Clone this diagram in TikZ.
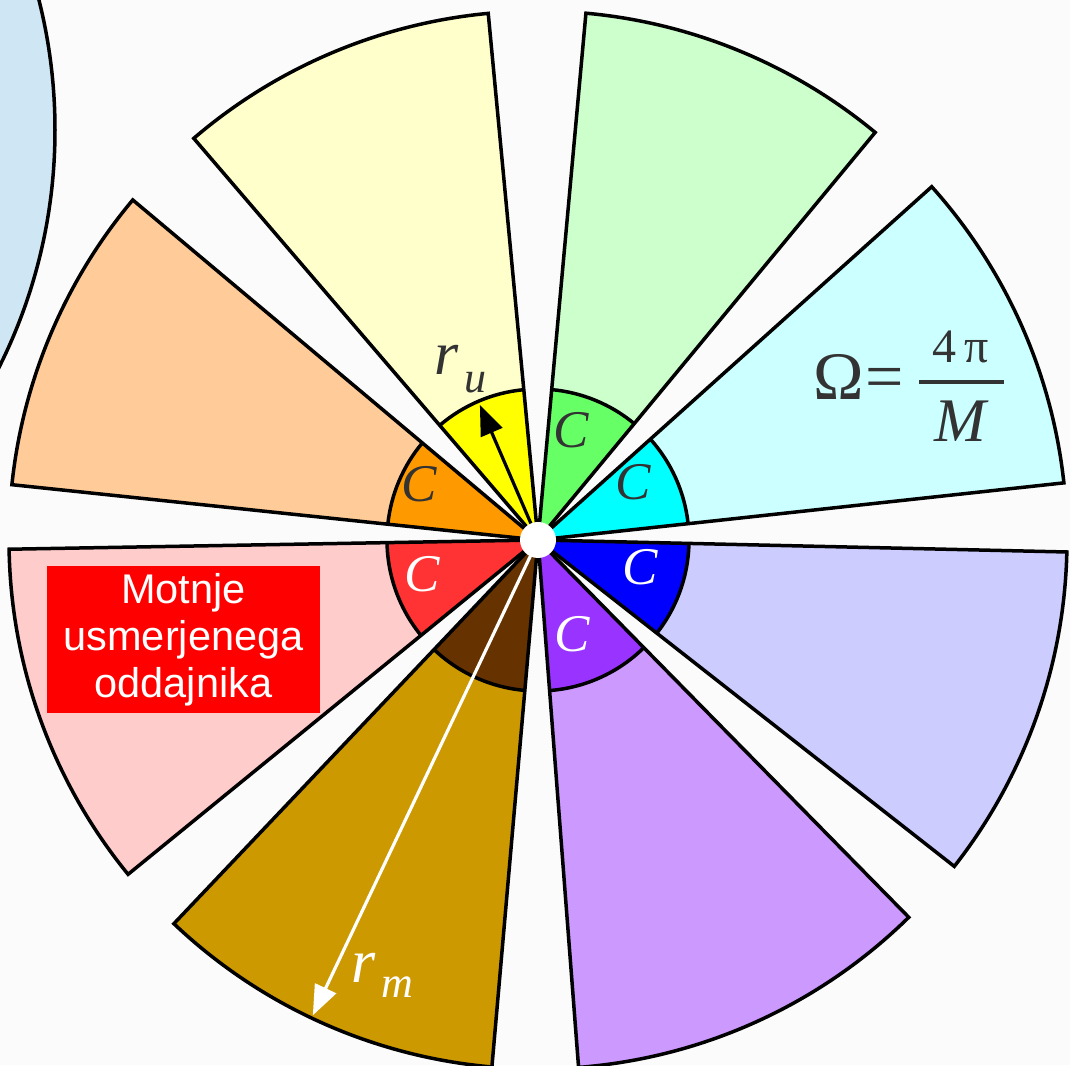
\documentclass[tikz,border=0pt]{standalone}
\usepackage{fontspec}
\setmainfont{Liberation Serif}
\newfontfamily\boxsans{Liberation Sans}
\usetikzlibrary{arrows.meta,calc}
\definecolor{bg}{HTML}{FBFBFB}
\definecolor{txt}{HTML}{333333}
\definecolor{cellblue}{HTML}{CFE6F4}
\definecolor{yelO}{HTML}{FFFFCC}\definecolor{yelI}{HTML}{FFFF00}
\definecolor{grnO}{HTML}{CCFFCC}\definecolor{grnI}{HTML}{66FF66}
\definecolor{cynO}{HTML}{CCFFFF}\definecolor{cynI}{HTML}{00FFFF}
\definecolor{lavO}{HTML}{CCCCFF}\definecolor{lavI}{HTML}{0000FF}
\definecolor{purO}{HTML}{CC99FF}\definecolor{purI}{HTML}{9933FF}
\definecolor{gldO}{HTML}{CC9900}\definecolor{gldI}{HTML}{663300}
\definecolor{pnkO}{HTML}{FFCCCC}\definecolor{pnkI}{HTML}{FF3333}
\definecolor{orgO}{HTML}{FFCC99}\definecolor{orgI}{HTML}{FF9900}
\begin{document}
\begin{tikzpicture}[x=1pt,y=1pt,
  outline/.style={draw=black,line width=3.5pt,line join=miter},
  clabel/.style={font=\fontsize{53}{53}\selectfont\itshape, inner sep=0pt, anchor=base},
  mathtext/.style={text=txt, inner sep=0pt},
  arrowline/.style={line width=3.2pt,-{Triangle[length=30pt,width=23pt]}}]
\useasboundingbox (0,0) rectangle (1070,1065);
\fill[bg] (0,0) rectangle (1070,1065);
\begin{scope}
\clip (0,0) rectangle (1070,1065);
% neighbouring cell
\fill[cellblue] (-475,935) circle[radius=530];
\draw[outline] (-475,935) circle[radius=530];
\coordinate (O) at (538,525);
% sectors
\foreach \a/\b/\co/\ci in {95.4/130.6/yelO/yelI, 50.4/84.8/grnO/grnI, 6.2/41.9/cynO/cynI,
   -38.1/-1.3/lavO/lavI, -85.6/-45.5/purO/purI, -133.5/-95/gldO/gldI,
   181/219.2/pnkO/pnkI, 140/174/orgO/orgI}{
  \fill[\co] (O) -- ($(O)+(\a:529)$) arc[start angle=\a, end angle=\b, radius=529] -- cycle;
  \fill[\ci] (O) -- ($(O)+(\a:151)$) arc[start angle=\a, end angle=\b, radius=151] -- cycle;
  \draw[outline] ($(O)+(\a:151)$) arc[start angle=\a, end angle=\b, radius=151];
  \draw[outline] (O) -- ($(O)+(\a:529)$) arc[start angle=\a, end angle=\b, radius=529] -- cycle;
}
% C labels
\node[clabel, text=txt] (cg) at (571,617) {C};
\node[clabel, text=txt] (cc) at (633,565) {C};
\node[clabel, text=txt] (co) at (419,563) {C};
\node[clabel, text=white] (cr) at (422,473) {C};
\node[clabel, text=white] (cb) at (640,480) {C};
\node[clabel, text=white] (cp) at (572,413) {C};
% radius arrows
\coordinate (tipu) at ($(O)+(113.3:147)$);
\coordinate (tipm) at ($(O)+(244.65:526)$);
\draw[arrowline, draw=black, fill=black] (O) -- (tipu);
\draw[arrowline, draw=white, fill=white] (O) -- (tipm);
\node[mathtext, anchor=base west, font=\fontsize{62}{62}\selectfont] (ru) at (434,690)
  {\textit{r}\kern6pt\raisebox{-18pt}{\fontsize{44}{44}\selectfont\textit{u}}};
\node[inner sep=0pt, text=white, anchor=base west, font=\fontsize{62}{62}\selectfont] (rm) at (351,83)
  {\textit{r}\kern6pt\raisebox{-15pt}{\fontsize{44}{44}\selectfont\textit{m}}};
% centre
\fill[white] (O) circle[radius=18];
% formula
\node[mathtext, anchor=base west, font=\fontsize{68}{68}\selectfont] (omeq) at (813,665) {Ω\kern2pt=};
\node[mathtext, anchor=base, font=\fontsize{48}{48}\selectfont] (num) at (961,702) {4\kern8pt π};
\node[mathtext, anchor=base, font=\fontsize{62}{62}\selectfont\itshape] (den) at (960,623) {M};
\fill[txt] (919,681) rectangle (1004,685);
% label box
\node[fill=red, text=white, minimum width=273pt, minimum height=147pt, inner sep=0pt,
  align=center, font=\boxsans\fontsize{41.5}{47}\selectfont] (box) at (183.5,425.5)
  {Motnje\\usmerjenega\\oddajnika};
\end{scope}
\end{tikzpicture}
\end{document}
